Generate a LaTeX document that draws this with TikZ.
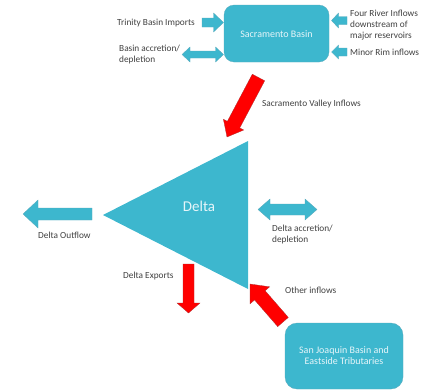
\documentclass[tikz,border=0pt]{standalone}
\usepackage{fontspec}
\setmainfont{Carlito}
\usetikzlibrary{calc}
\definecolor{cy}{HTML}{3DB7CE}
\definecolor{cyline}{HTML}{5AA9BB}
\definecolor{txt}{HTML}{404040}
\definecolor{boxtxt}{HTML}{E6F5F9}
\newcommand\blockarr[6]{% style, from, to, shaft half, head half, head length
  \coordinate (hb) at ($(#3)!#6!(#2)$);
  \path[#1] ($(#2)!#4!90:(#3)$) -- ($(hb)!#4!90:(#3)$) -- ($(hb)!#5!90:(#3)$) -- (#3)
    -- ($(hb)!#5!-90:(#3)$) -- ($(hb)!#4!-90:(#3)$) -- ($(#2)!#4!-90:(#3)$) -- cycle;}
\newcommand\dblarr[6]{% style, end A, end B, shaft half, head half, head length
  \coordinate (ha) at ($(#2)!#6!(#3)$);
  \coordinate (hb) at ($(#3)!#6!(#2)$);
  \path[#1] (#2) -- ($(ha)!#5!90:(#3)$) -- ($(ha)!#4!90:(#3)$) -- ($(hb)!#4!-90:(#2)$)
    -- ($(hb)!#5!-90:(#2)$) -- (#3) -- ($(hb)!#5!90:(#2)$) -- ($(hb)!#4!90:(#2)$)
    -- ($(ha)!#4!-90:(#3)$) -- ($(ha)!#5!-90:(#3)$) -- cycle;}
\begin{document}
\begin{tikzpicture}[x=1pt,y=-1pt,
  cyarr/.style={fill=cy,draw=cyline,line width=0.3pt},
  redarr/.style={fill=red,draw=red!60!black!80,line width=0.3pt},
  lbl/.style={text=txt,font=\fontsize{9.3}{11}\selectfont,inner sep=0pt,align=left},
  basin/.style={fill=cy,draw=cyline,line width=0.3pt,rounded corners=10pt},
  boxlbl/.style={text=boxtxt,font=\fontsize{10}{11}\selectfont,inner sep=0pt,align=center}]
\useasboundingbox (0,0) rectangle (433,391);
% boxes and triangle
\path[basin] (224,5) rectangle (329,62);
\node[boxlbl] (sac) at (276.5,34) {Sacramento Basin};
\path[basin,rounded corners=12pt] (285,323) rectangle (403,389);
\node[boxlbl] (sj) at (344,356) {San Joaquin Basin and\\Eastside Tributaries};
\path[fill=cy] (103,215) coordinate (dl) -- (248,141) coordinate (dt) -- (248,289) coordinate (db) -- cycle;
\node[text=boxtxt,font=\fontsize{15}{17}\selectfont,inner sep=0pt] (delta) at (199,206) {Delta};
% coordinates for arrows
\coordinate (tr1) at (202,22.5); \coordinate (tr2) at (223.5,22.5);
\coordinate (ba1) at (182,54.5); \coordinate (ba2) at (223.5,54.5);
\coordinate (fr1) at (347,20.5); \coordinate (fr2) at (331.5,20.5);
\coordinate (mr1) at (347,52); \coordinate (mr2) at (331.5,52);
\coordinate (sv1) at (258.5,77.5); \coordinate (sv2) at (227,137);
\coordinate (do1) at (92,214); \coordinate (do2) at (23,214);
\coordinate (da1) at (258,209.5); \coordinate (da2) at (317,209.5);
\coordinate (de1) at (188.5,264); \coordinate (de2) at (188.5,313);
\coordinate (oi1) at (283,322); \coordinate (oi2) at (250,284);
% arrows
\blockarr{cyarr}{tr1}{tr2}{4.5pt}{9.5pt}{10pt}
\dblarr{cyarr}{ba1}{ba2}{3.5pt}{7.5pt}{8pt}
\blockarr{cyarr}{fr1}{fr2}{4pt}{7.5pt}{7pt}
\blockarr{cyarr}{mr1}{mr2}{4pt}{7pt}{7pt}
\blockarr{cyarr}{do1}{do2}{6pt}{14pt}{15pt}
\dblarr{cyarr}{da1}{da2}{5.5pt}{10.5pt}{12pt}
\blockarr{redarr}{sv1}{sv2}{7pt}{11.5pt}{14pt}
\blockarr{redarr}{de1}{de2}{5.5pt}{11.5pt}{10pt}
\blockarr{redarr}{oi1}{oi2}{7pt}{13pt}{15pt}
% labels
\node[lbl,anchor=west] (ltr) at (117,23) {Trinity Basin Imports};
\node[lbl,anchor=west] (lba) at (119,55) {Basin accretion/\\depletion};
\node[lbl,anchor=west] (lfr) at (350,25.5) {Four River Inflows\\downstream of\\major reservoirs};
\node[lbl,anchor=west] (lmr) at (350,52) {Minor Rim inflows};
\node[lbl,anchor=west] (lsv) at (262,104) {Sacramento Valley Inflows};
\node[lbl,anchor=west] (ldo) at (38,235) {Delta Outflow};
\node[lbl,anchor=west] (lda) at (272,234.5) {Delta accretion/\\depletion};
\node[lbl,anchor=west] (lde) at (123,276) {Delta Exports};
\node[lbl,anchor=west] (loi) at (285,290) {Other inflows};
\end{tikzpicture}
\end{document}
